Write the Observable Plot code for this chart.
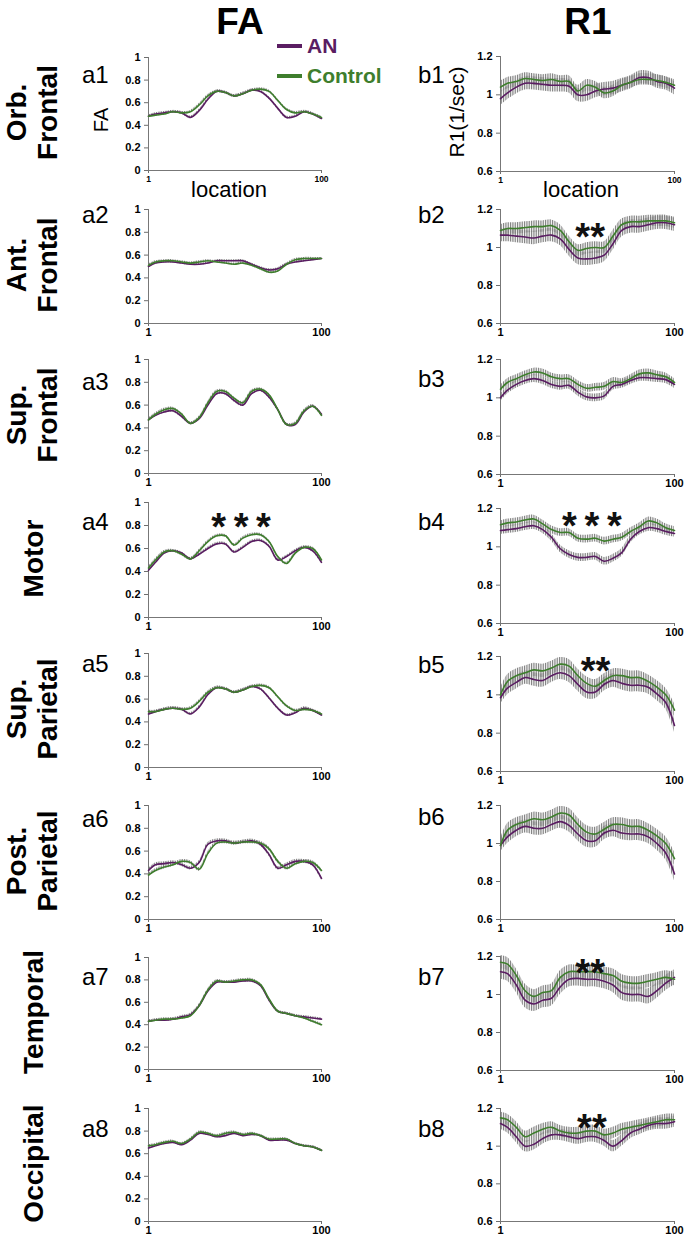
<!DOCTYPE html>
<html><head><meta charset="utf-8">
<script src="https://cdn.jsdelivr.net/npm/d3@7"></script>
<script src="https://cdn.jsdelivr.net/npm/@observablehq/plot@0.6"></script>
<style>
body{margin:0;background:#fff;}
#root{position:relative;width:690px;height:1237px;overflow:hidden;background:#fff;font-family:"Liberation Sans",Arial,Helvetica,sans-serif;}
.panel{position:absolute;}
.panel svg g[aria-label$="tick"]{stroke:#6e6e6e;}
.row1 svg g[aria-label^="x-axis"] text{font-size:8.5px;}
#overlay{position:absolute;left:0;top:0;pointer-events:none;}
</style></head><body>
<svg width="0" height="0" style="position:absolute"><defs>
<pattern id="errbars" patternUnits="userSpaceOnUse" width="1.75" height="8"><rect x="0" y="0" width="0.9" height="8" fill="#7d7d7d"/></pattern>
</defs></svg>
<div id="root"></div>
<script>
// ---------- data ----------
const locations = [1,5,10,15,20,25,30,35,40,45,50,55,60,65,70,75,80,85,90,95,100];
const regions = [["Orb.","Frontal"],["Ant.","Frontal"],["Sup.","Frontal"],["Motor"],["Sup.","Parietal"],["Post.","Parietal"],["Temporal"],["Occipital"]];
const groups = ["AN","Control"];
const columnTitles = ["FA","R1"];
const faTicks = [0,0.2,0.4,0.6,0.8,1];
const r1Ticks = [0.6,0.8,1,1.2];
const xTicks = [1,100];

// FA (column a)
const a1_AN      = [0.48,0.50,0.51,0.52,0.51,0.47,0.53,0.63,0.70,0.69,0.66,0.68,0.71,0.70,0.64,0.55,0.47,0.48,0.52,0.50,0.46];
const a1_Control = [0.48,0.49,0.50,0.52,0.51,0.52,0.58,0.66,0.70,0.69,0.66,0.68,0.71,0.72,0.70,0.62,0.54,0.51,0.52,0.50,0.47];
const a2_AN      = [0.50,0.53,0.54,0.54,0.53,0.52,0.52,0.53,0.55,0.55,0.55,0.55,0.52,0.49,0.47,0.48,0.52,0.54,0.55,0.56,0.57];
const a2_Control = [0.51,0.54,0.55,0.55,0.54,0.53,0.54,0.55,0.54,0.53,0.52,0.53,0.51,0.48,0.45,0.46,0.52,0.56,0.57,0.57,0.57];
const a3_AN      = [0.47,0.51,0.54,0.55,0.50,0.44,0.48,0.60,0.70,0.70,0.64,0.60,0.70,0.73,0.67,0.56,0.43,0.43,0.54,0.59,0.52];
const a3_Control = [0.47,0.52,0.56,0.57,0.52,0.44,0.49,0.62,0.72,0.72,0.66,0.62,0.72,0.74,0.69,0.56,0.43,0.44,0.55,0.59,0.51];
const a4_AN      = [0.41,0.48,0.56,0.58,0.56,0.51,0.55,0.60,0.64,0.64,0.57,0.61,0.66,0.67,0.62,0.50,0.53,0.58,0.61,0.58,0.48];
const a4_Control = [0.43,0.50,0.57,0.58,0.55,0.51,0.58,0.66,0.71,0.71,0.63,0.69,0.72,0.72,0.66,0.53,0.47,0.56,0.61,0.60,0.50];
const a5_AN      = [0.47,0.49,0.51,0.52,0.51,0.47,0.53,0.64,0.70,0.69,0.66,0.68,0.71,0.69,0.61,0.52,0.46,0.48,0.52,0.50,0.46];
const a5_Control = [0.49,0.49,0.51,0.52,0.51,0.52,0.58,0.66,0.70,0.69,0.66,0.68,0.71,0.72,0.70,0.62,0.54,0.50,0.51,0.50,0.47];
const a6_AN      = [0.43,0.48,0.49,0.50,0.48,0.45,0.50,0.66,0.69,0.69,0.67,0.68,0.69,0.66,0.57,0.45,0.48,0.51,0.51,0.48,0.36];
const a6_Control = [0.39,0.43,0.46,0.48,0.51,0.50,0.44,0.58,0.67,0.68,0.67,0.68,0.68,0.67,0.62,0.51,0.45,0.49,0.51,0.50,0.43];
const a7_AN      = [0.43,0.44,0.44,0.45,0.47,0.49,0.57,0.70,0.78,0.78,0.78,0.79,0.79,0.75,0.62,0.52,0.50,0.48,0.47,0.46,0.45];
const a7_Control = [0.43,0.44,0.45,0.45,0.46,0.48,0.57,0.71,0.79,0.78,0.79,0.80,0.80,0.76,0.63,0.52,0.50,0.48,0.46,0.43,0.40];
const a8_AN      = [0.65,0.67,0.69,0.70,0.68,0.72,0.78,0.77,0.75,0.76,0.78,0.76,0.77,0.76,0.72,0.72,0.72,0.69,0.67,0.66,0.63];
const a8_Control = [0.67,0.68,0.70,0.71,0.69,0.73,0.79,0.78,0.76,0.78,0.79,0.77,0.78,0.76,0.73,0.73,0.73,0.69,0.67,0.66,0.63];

// R1 (column b)
const b1_AN      = [0.98,1.01,1.04,1.06,1.06,1.055,1.05,1.05,1.045,1.00,1.00,1.02,1.03,1.035,1.05,1.065,1.09,1.09,1.07,1.06,1.035];
const b1_Control = [1.04,1.06,1.07,1.085,1.08,1.075,1.08,1.07,1.07,1.02,1.05,1.04,1.01,1.02,1.05,1.065,1.08,1.08,1.075,1.065,1.05];
const b2_AN      = [1.065,1.065,1.06,1.055,1.05,1.06,1.065,1.045,0.99,0.945,0.94,0.945,0.96,1.02,1.09,1.11,1.11,1.12,1.13,1.13,1.12];
const b2_Control = [1.09,1.10,1.10,1.105,1.11,1.11,1.115,1.09,1.03,0.985,0.995,1.0,1.00,1.06,1.12,1.135,1.135,1.14,1.14,1.14,1.13];
const b3_AN      = [1.00,1.04,1.07,1.09,1.10,1.09,1.07,1.06,1.065,1.03,1.005,1.0,1.01,1.06,1.07,1.09,1.105,1.105,1.10,1.095,1.07];
const b3_Control = [1.045,1.08,1.10,1.12,1.135,1.13,1.11,1.10,1.10,1.07,1.05,1.055,1.06,1.085,1.08,1.10,1.125,1.13,1.12,1.11,1.08];
const b4_AN      = [1.085,1.09,1.095,1.105,1.11,1.09,1.05,0.99,0.96,0.945,0.945,0.95,0.925,0.94,0.97,1.04,1.08,1.10,1.095,1.08,1.07];
const b4_Control = [1.115,1.125,1.13,1.14,1.145,1.12,1.09,1.075,1.075,1.045,1.04,1.045,1.03,1.04,1.05,1.08,1.105,1.135,1.125,1.10,1.085];
const b5_AN      = [0.985,1.035,1.065,1.09,1.08,1.075,1.10,1.115,1.10,1.055,1.015,1.015,1.055,1.075,1.06,1.05,1.05,1.04,1.005,0.96,0.84];
const b5_Control = [1.0,1.07,1.10,1.115,1.13,1.125,1.14,1.16,1.15,1.10,1.06,1.045,1.075,1.10,1.10,1.09,1.09,1.07,1.04,1.0,0.92];
const b6_AN      = [0.99,1.035,1.07,1.09,1.08,1.08,1.10,1.115,1.095,1.05,1.015,1.015,1.055,1.07,1.055,1.05,1.05,1.035,1.0,0.95,0.84];
const b6_Control = [0.99,1.07,1.10,1.115,1.13,1.125,1.14,1.16,1.15,1.10,1.06,1.05,1.075,1.10,1.10,1.09,1.09,1.07,1.04,1.0,0.92];
const b7_AN      = [1.12,1.11,1.05,0.97,0.95,0.97,0.98,1.04,1.08,1.085,1.08,1.08,1.07,1.05,1.01,1.00,1.00,0.99,1.02,1.06,1.09];
const b7_Control = [1.17,1.16,1.10,1.02,0.99,1.01,1.02,1.09,1.12,1.12,1.12,1.12,1.11,1.10,1.07,1.06,1.06,1.07,1.08,1.09,1.08];
const b8_AN      = [1.12,1.10,1.05,1.00,1.01,1.04,1.06,1.06,1.05,1.04,1.05,1.05,1.03,1.00,1.03,1.07,1.09,1.11,1.12,1.12,1.13];
const b8_Control = [1.15,1.14,1.10,1.05,1.07,1.09,1.10,1.08,1.07,1.07,1.08,1.08,1.06,1.07,1.09,1.10,1.11,1.12,1.13,1.14,1.14];

// error bar half-widths per panel
const faErr_AN      = [0.012,0.010,0.012,0.012,0.012,0.016,0.012,0.010];
const faErr_Control = [0.012,0.010,0.012,0.012,0.012,0.016,0.012,0.010];
const r1Err_AN      = [0.035,0.035,0.02,0.02,0.035,0.035,0.04,0.03];
const r1Err_Control = [0.03,0.03,0.02,0.02,0.035,0.035,0.035,0.03];

// significance markers
const starPanels = ["a4","b2","b4","b5","b7","b8"];
const starLabels = ["*\u2009*\u2009*","**","*\u2009*\u2009*","**","**","**"];
const starLocs   = [54,52,53,55,52,53];
const starLevels = [0.861,1.10,1.153,1.169,1.16,1.14];

const seriesAN = {a:[a1_AN,a2_AN,a3_AN,a4_AN,a5_AN,a6_AN,a7_AN,a8_AN], b:[b1_AN,b2_AN,b3_AN,b4_AN,b5_AN,b6_AN,b7_AN,b8_AN]};
const seriesCtl = {a:[a1_Control,a2_Control,a3_Control,a4_Control,a5_Control,a6_Control,a7_Control,a8_Control], b:[b1_Control,b2_Control,b3_Control,b4_Control,b5_Control,b6_Control,b7_Control,b8_Control]};
const errAN = {a: faErr_AN, b: r1Err_AN};
const errCtl = {a: faErr_Control, b: r1Err_Control};
const stars = starPanels.map((p,i)=>({panel:p, label:starLabels[i], loc:starLocs[i], level:starLevels[i]}));

// ---------- layout ----------
const PURPLE = "#5a1d62", GREEN = "#3e7e2d";
const FONT = '"Liberation Sans", Arial, Helvetica, sans-serif';
const frames = {
  a: [[57,170],[209,323],[359,473],[502,617],[653,767],[805,919],[957,1069],[1108,1221]],
  b: [[56,171],[209,323],[359,474],[508,623],[656,771],[805,919],[956,1070],[1108,1221]]
};
const colGeom = {a:{left:100, frameLeft:148, frameRight:321}, b:{left:440, frameLeft:500, frameRight:674}};
const root = document.getElementById("root");

function drawPanel(col, r) {
  const g = colGeom[col];
  const [ft, fb] = frames[col][r];
  const mt = 14, mb = 30, mr = 14;
  const ml = g.frameLeft - g.left;
  const width = g.frameRight + mr - g.left;
  const height = mt + (fb - ft) + mb;
  const fa = col === "a";
  const ymin = fa ? 0 : 0.6;
  const data = [];
  [[seriesAN, errAN, "AN"], [seriesCtl, errCtl, "Control"]].forEach(([S, E, name]) => {
    const vals = S[col][r], e = E[col][r];
    vals.forEach((v, i) => data.push({loc: locations[i], v, lo: v - e, hi: v + e, group: name}));
  });
  const id = col + (r + 1);
  const fs = 38;
  const plot = Plot.plot({
    width, height, marginLeft: ml, marginRight: mr, marginTop: mt, marginBottom: mb,
    x: {domain: [1, 100], ticks: xTicks, tickSize: 3, tickPadding: 2, tickFormat: d => String(d), label: null},
    y: {domain: fa ? [0, 1] : [0.6, 1.2], ticks: fa ? faTicks : r1Ticks, tickSize: 4, tickPadding: 4, tickFormat: d => String(d), label: null},
    color: {domain: groups, range: [PURPLE, GREEN]},
    style: {fontFamily: FONT, fontSize: "11px", fontWeight: "bold", color: "#000", background: "transparent", overflow: "visible"},
    marks: [
      Plot.areaY(data, {x: "loc", y1: "lo", y2: "hi", z: "group", fill: "url(#errbars)", curve: "catmull-rom"}),
      Plot.ruleX([1], {stroke: "#777", strokeWidth: 1}),
      Plot.ruleY([ymin], {stroke: "#777", strokeWidth: 1}),
      Plot.lineY(data, {x: "loc", y: "v", z: "group", stroke: "group", strokeWidth: 1.6, curve: "catmull-rom"}),
      Plot.text(stars.filter(s => s.panel === id), {x: "loc", y: "level", text: "label", lineAnchor: "bottom", dy: 0.57 * fs, fontSize: fs, fontWeight: "bold", fill: "#111"})
    ]
  });
  const div = document.createElement("div");
  div.className = "panel" + (r === 0 ? " row1" : "");
  div.style.left = g.left + "px";
  div.style.top = (ft - mt) + "px";
  div.style.width = width + "px";
  div.style.height = height + "px";
  div.appendChild(plot);
  root.appendChild(div);
}
for (let r = 0; r < 8; r++) { drawPanel("a", r); drawPanel("b", r); }

// ---------- text overlay ----------
const ov = d3.select(root).append("svg").attr("id", "overlay").attr("width", 690).attr("height", 1237)
  .style("font-family", FONT);
function txt(x, y, s, o = {}) {
  const t = ov.append("text").attr("x", x).attr("y", y).text(s)
    .attr("font-size", o.size || 20).attr("font-weight", o.weight || "normal")
    .attr("fill", o.fill || "#000").attr("text-anchor", o.anchor || "start");
  if (o.rotate) t.attr("transform", `rotate(-90 ${x} ${y})`);
  return t;
}
// column titles
txt(240, 34, columnTitles[0], {size: 37, weight: "bold", anchor: "middle"});
txt(588, 34, columnTitles[1], {size: 37, weight: "bold", anchor: "middle"});
// legend
ov.append("line").attr("x1", 277).attr("x2", 302).attr("y1", 46).attr("y2", 46).attr("stroke", PURPLE).attr("stroke-width", 4);
ov.append("line").attr("x1", 277).attr("x2", 302).attr("y1", 76).attr("y2", 76).attr("stroke", GREEN).attr("stroke-width", 4);
txt(307, 53, groups[0], {size: 21, weight: "bold", fill: PURPLE});
txt(307, 83, groups[1], {size: 21, weight: "bold", fill: GREEN});
// axis titles on first row
txt(108, 120, "FA", {size: 20, anchor: "middle", rotate: true});
txt(464, 112, "R1(1/sec)", {size: 21, anchor: "middle", rotate: true});
txt(229, 197, "location", {size: 22, anchor: "middle"});
txt(581, 197, "location", {size: 22, anchor: "middle"});
// panel labels
const labelBaseA = [83,223,390,530,672,827,985,1137];
const labelBaseB = [83,223,387,530,673,825,985,1137];
for (let r = 0; r < 8; r++) {
  txt(82, labelBaseA[r], "a" + (r + 1), {size: 24});
  txt(418, labelBaseB[r], "b" + (r + 1), {size: 24});
}
// row labels
regions.forEach((lines, r) => {
  const [ft, fb] = frames.a[r];
  const cy = (ft + fb) / 2 - 1;
  if (lines.length === 2) {
    txt(26, cy, lines[0], {size: 28, weight: "bold", anchor: "middle", rotate: true});
    txt(57, cy, lines[1], {size: 28, weight: "bold", anchor: "middle", rotate: true});
  } else {
    txt(43, cy, lines[0], {size: 28, weight: "bold", anchor: "middle", rotate: true});
  }
});
</script>
</body></html>
